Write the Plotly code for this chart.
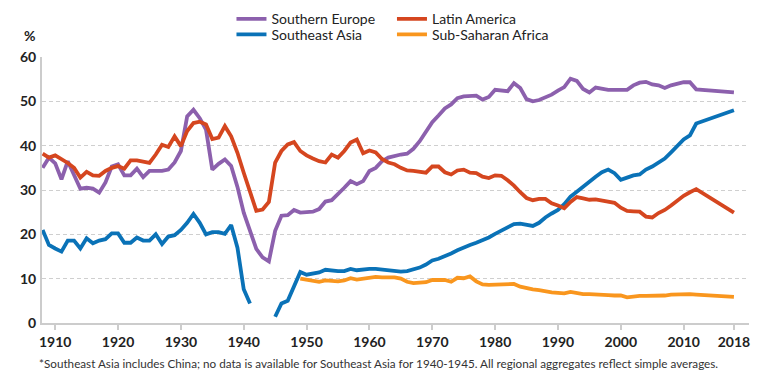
import plotly.graph_objects as go

years = list(range(1908, 2013)) + [2018]

southern_europe = [
    35.0, 37.3, 36.0, 32.4, 36.5, 33.5, 30.3, 30.5, 30.3, 29.4,   # 1908-1917
    31.7, 35.3, 35.8, 33.3, 33.3, 34.8, 32.9, 34.3, 34.3, 34.3,   # 1918-1927
    34.6, 36.2, 38.8, 46.6, 48.1, 46.2, 43.6, 34.6, 35.9, 36.9,   # 1928-1937
    35.4, 30.7, 24.9, 20.8, 16.7, 14.8, 13.9, 20.8, 24.2, 24.3,   # 1938-1947
    25.5, 24.9, 24.9, 25.1, 25.7, 27.4, 27.7, 29.0, 30.5, 32.0,   # 1948-1957
    31.3, 32.0, 34.3, 35.0, 36.5, 37.3, 37.7, 38.0, 38.2, 39.3,   # 1958-1967
    41.0, 43.2, 45.3, 46.8, 48.4, 49.3, 50.7, 51.1, 51.2, 51.3,   # 1968-1977
    50.4, 51.0, 52.6, 52.4, 52.3, 54.1, 53.0, 50.5, 50.0, 50.3,   # 1978-1987
    50.8, 51.5, 52.4, 53.2, 55.1, 54.6, 52.8, 52.0, 53.1, 52.8,   # 1988-1997
    52.6, 52.6, 52.6, 52.6, 53.6, 54.2, 54.4, 53.8, 53.6, 53.0,   # 1998-2007
    53.6, 54.0, 54.3, 54.3, 52.7,                                 # 2008-2012
    52.0,                                                         # 2018
]

southeast_asia = [
    21.0, 17.6, 16.8, 16.1, 18.6, 18.6, 16.8, 19.1, 18.0, 18.6,   # 1908-1917
    18.9, 20.2, 20.2, 18.1, 18.1, 19.3, 18.6, 18.6, 20.0, 17.8,   # 1918-1927
    19.5, 19.8, 21.0, 22.6, 24.6, 22.6, 20.0, 20.5, 20.5, 20.1,   # 1928-1937
    22.1, 17.0, 7.6, 4.4, None, None, None, 1.4, 4.4, 5.0,        # 1938-1947
    8.3, 11.5, 10.9, 11.1, 11.4, 12.0, 11.8, 11.7, 11.7, 12.2,    # 1948-1957
    11.9, 12.1, 12.2, 12.2, 12.0, 11.9, 11.7, 11.6, 11.7, 12.0,   # 1958-1967
    12.5, 13.2, 14.1, 14.5, 15.0, 15.7, 16.4, 17.1, 17.6, 18.1,   # 1968-1977
    18.6, 19.3, 20.1, 20.9, 21.7, 22.3, 22.4, 22.1, 21.9, 22.6,   # 1978-1987
    23.8, 24.7, 25.5, 26.8, 28.5, 29.6, 30.8, 32.0, 33.0, 34.0,   # 1988-1997
    34.6, 33.8, 32.3, 32.8, 33.3, 33.5, 34.6, 35.3, 36.3, 37.1,   # 1998-2007
    38.5, 40.0, 41.4, 42.3, 45.0,                                 # 2008-2012
    48.0,                                                         # 2018
]

latin_america = [
    38.2, 37.3, 37.8, 37.0, 36.1, 35.0, 32.8, 34.1, 33.3, 33.2,   # 1908-1917
    34.3, 35.0, 35.4, 34.8, 36.7, 36.7, 36.5, 36.1, 38.0, 40.2,   # 1918-1927
    39.7, 42.1, 39.9, 43.3, 45.1, 45.4, 44.8, 41.5, 41.8, 44.4,   # 1928-1937
    42.1, 38.4, 33.9, 29.4, 25.3, 25.6, 27.3, 36.2, 38.8, 40.3,   # 1938-1947
    40.8, 38.8, 37.8, 37.1, 36.5, 36.2, 38.0, 37.3, 38.8, 40.7,   # 1948-1957
    41.4, 38.3, 38.9, 38.5, 37.0, 36.2, 35.8, 35.0, 34.4, 34.3,   # 1958-1967
    34.1, 33.9, 35.3, 35.3, 34.0, 33.5, 34.4, 34.6, 33.9, 33.8,   # 1968-1977
    33.0, 32.7, 33.3, 33.2, 32.2, 31.0, 29.5, 28.2, 27.7, 28.0,   # 1978-1987
    28.0, 27.0, 26.5, 25.9, 27.3, 28.4, 28.1, 27.8, 27.9, 27.6,   # 1988-1997
    27.5, 27.1, 26.0, 25.3, 25.2, 25.1, 24.0, 23.8, 24.8, 25.5,   # 1998-2007
    26.5, 27.6, 28.7, 29.5, 30.2,                                 # 2008-2012
    24.9,                                                         # 2018
]

ssa_years = list(range(1949, 2013)) + [2018]
sub_saharan_africa = [
    10.0, 9.8, 9.6, 9.3, 9.6, 9.4, 9.4, 9.6, 10.1,                # 1949-1957
    9.8, 10.0, 10.4, 10.4, 10.3, 10.3, 10.3, 10.0, 9.3, 9.0,      # 1958-1967
    9.0, 9.2, 9.7, 9.7, 9.7, 9.3, 10.2, 10.1, 10.5, 9.4,          # 1968-1977
    8.7, 8.6, 8.6, 8.6, 8.6, 8.8, 8.2, 7.8, 7.6, 7.4,             # 1978-1987
    7.1, 6.9, 6.8, 6.7, 7.0, 6.7, 6.5, 6.5, 6.5, 6.5,             # 1988-1997
    6.3, 6.2, 6.2, 5.8, 6.0, 6.1, 6.1, 6.1, 6.1, 6.2,             # 1998-2007
    6.4, 6.5, 6.6, 6.5, 6.4,                                      # 2008-2012
    5.9,                                                          # 2018
]

x_tick_vals = [1910, 1920, 1930, 1940, 1950, 1960, 1970, 1980, 1990, 2000, 2010, 2018]
x_tick_text = [str(v) for v in x_tick_vals]
y_tick_vals = [0, 10, 20, 30, 40, 50, 60]

C_PURPLE = "#8c60ad"
C_BLUE = "#0a72b7"
C_RED = "#d5461f"
C_ORANGE = "#f9961e"
FONT = "Lato"
LW = 3.8

fig = go.Figure()
fig.add_trace(go.Scatter(x=years, y=southern_europe, mode="lines", name="Southern Europe",
                         line=dict(color=C_PURPLE, width=LW), legend="legend"))
fig.add_trace(go.Scatter(x=years, y=southeast_asia, mode="lines", name="Southeast Asia",
                         line=dict(color=C_BLUE, width=LW), connectgaps=False, legend="legend3"))
fig.add_trace(go.Scatter(x=years, y=latin_america, mode="lines", name="Latin America",
                         line=dict(color=C_RED, width=LW), legend="legend2"))
fig.add_trace(go.Scatter(x=ssa_years, y=sub_saharan_africa, mode="lines", name="Sub-Saharan Africa",
                         line=dict(color=C_ORANGE, width=LW), legend="legend4"))

legend_common = dict(
    orientation="v", xanchor="left", yanchor="top",
    font=dict(family=FONT, size=14, color="#222222"),
    bgcolor="rgba(0,0,0,0)", borderwidth=0, itemwidth=30,
    tracegroupgap=0,
)
LX1, LX2 = 0.268, 0.495
LY1, LY2 = 1.202, 1.1436

fig.update_layout(
    width=768, height=379,
    margin=dict(l=42, r=19, t=57, b=55.5, autoexpand=False),
    paper_bgcolor="white", plot_bgcolor="white",
    font=dict(family=FONT, size=14, color="#222222"),
    showlegend=True,
    legend=dict(x=LX1, y=LY1, **legend_common),
    legend3=dict(x=LX1, y=LY2, **legend_common),
    legend2=dict(x=LX2, y=LY1, **legend_common),
    legend4=dict(x=LX2, y=LY2, **legend_common),
    xaxis=dict(
        range=[1907.9, 2020.4], tickmode="array", tickvals=x_tick_vals, ticktext=x_tick_text,
        showgrid=False, zeroline=False, showline=True, linecolor="#cccccc", linewidth=2,
        ticks="outside", ticklen=5, tickcolor="#cccccc", tickwidth=1.5,
        tickfont=dict(family=FONT, size=14, color="#222222", weight="bold"),
    ),
    yaxis=dict(
        range=[0, 60], tickmode="array", tickvals=y_tick_vals,
        showgrid=True, gridcolor="#cfcfcf", gridwidth=1, griddash="4px,3px",
        zeroline=False, showline=True, linecolor="#cccccc", linewidth=2,
        ticks="", ticklabelstandoff=1,
        tickfont=dict(family=FONT, size=14, color="#222222", weight="bold"),
    ),
    annotations=[
        dict(text="<b>%</b>", xref="paper", yref="paper", x=0, y=1, xanchor="center", yanchor="bottom",
             xshift=-13, yshift=11, showarrow=False, font=dict(family=FONT, size=14, color="#222222")),
        dict(text="*Southeast Asia includes China; no data is available for Southeast Asia for 1940-1945. "
                  "All regional aggregates reflect simple averages.",
             xref="paper", yref="paper", x=0, y=0, xanchor="left", yanchor="middle",
             xshift=-5, yshift=-40, showarrow=False, font=dict(family=FONT, size=11.7, color="#333333")),
    ],
)

fig.write_html("out.html", config={"displayModeBar": False},
               post_script="document.body.style.margin='0';document.body.style.padding='0';")
